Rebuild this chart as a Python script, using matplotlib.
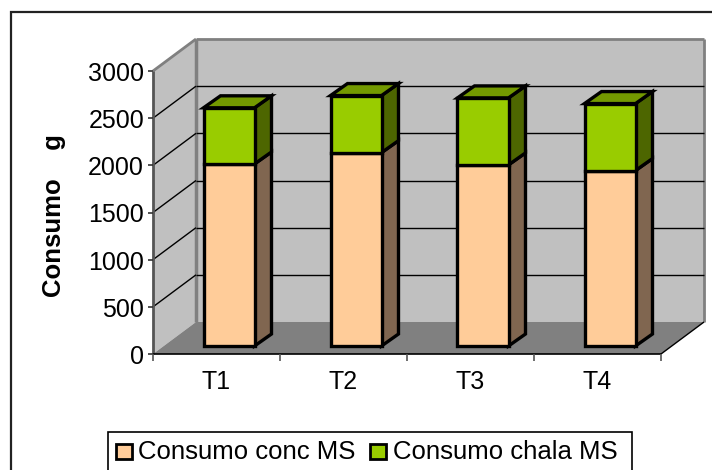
import numpy as np
import matplotlib
matplotlib.use('Agg')
import matplotlib.pyplot as plt
from matplotlib.patches import Polygon, Rectangle

plt.rcParams['font.family'] = ['Liberation Sans', 'DejaVu Sans']

categories = ['T1', 'T2', 'T3', 'T4']
conc = [1930, 2050, 1920, 1860]
chala = [595, 605, 710, 710]
yticks = [0, 500, 1000, 1500, 2000, 2500, 3000]

W, H = 712, 470
fig = plt.figure(figsize=(W/100, H/100), dpi=100)

# front plane of the 3d box, data units: categories across, grams up
x0, x1, ytop, ybot = 153, 661, 71, 354
ax = fig.add_axes([x0/W, 1-ybot/H, (x1-x0)/W, (ybot-ytop)/H])
ax.set_xlim(0, 4)
ax.set_ylim(0, 3000)
ax.axis('off')

px = 4/(x1-x0)
py = 3000/(ybot-ytop)
depth_x = 43*px
depth_y = 32*py


def poly(pts, fc, ec='none', lw=0, z=1):
    p = Polygon(pts, closed=True, facecolor=fc, edgecolor=ec, linewidth=lw, zorder=z,
                clip_on=False, joinstyle='miter')
    ax.add_patch(p)


def line(xs, ys, color='black', lw=1, z=2):
    ax.plot(xs, ys, color=color, lw=lw, zorder=z, clip_on=False, solid_capstyle='butt')


# walls and floor
gray = '#c0c0c0'
edge = '#808080'
poly([(0, 0), (depth_x, depth_y), (depth_x, 3000+depth_y), (0, 3000)], gray)
poly([(depth_x, depth_y), (4+depth_x, depth_y), (4+depth_x, 3000+depth_y), (depth_x, 3000+depth_y)], gray)
poly([(0, 0), (4, 0), (4+depth_x, depth_y), (depth_x, depth_y)], edge)

line([0, depth_x], [3000, 3000+depth_y], edge, 2, 1.5)
line([depth_x, depth_x], [depth_y, 3000+depth_y], edge, 2.5, 1.5)
line([depth_x, 4+depth_x], [3000+depth_y, 3000+depth_y], edge, 2, 1.5)
line([4+depth_x, 4+depth_x], [depth_y, 3000+depth_y], edge, 2, 1.5)
line([0, 0], [0, 3000], '#555555', 2, 3)

# gridlines
for v in yticks[1:-1]:
    line([0, depth_x], [v, v+depth_y], 'black', 1, 1.6)
    line([depth_x, 4+depth_x], [v+depth_y, v+depth_y], 'black', 1, 1.6)

# axes lines, ticks
line([0, 4], [0, 0], 'black', 1.2, 3)
line([4, 4+depth_x], [0, depth_y], 'black', 1, 3)
for v in yticks:
    line([-5*px, 0], [v, v], '#333333', 1.2, 3)
    ax.text(-9*px, v-3*py, str(v), ha='right', va='center', fontsize=18, color='black')
for i in range(5):
    line([i, i], [0, -7*py], '#555555', 1.2, 3)
for i, c in enumerate(categories):
    ax.text(i+0.5, -28*py, c, ha='center', va='center', fontsize=18, color='black')

ax.text(-99*px, 1463, 'Consumo    g', rotation=90, ha='center', va='center',
        fontsize=18.5, fontweight='bold')

# stacked 3d bars
bar_w = 51*px
off_x = 12.5*px
off_y = 8*py
bx = 17*px
by = 12*py
face = [('#ffcc99', '#806650', None), ('#99cc00', '#4d6600', '#739900')]
for i in range(4):
    l = i+0.5+off_x-bar_w/2
    r = l+bar_w
    bottom = off_y
    for vals, (fc, side, top) in zip([conc, chala], face):
        t = bottom+vals[i]
        poly([(r, bottom), (r+bx, bottom+by), (r+bx, t+by), (r, t)], side, 'black', 2.4, 5+i)
        poly([(l, bottom), (r, bottom), (r, t), (l, t)], fc, 'black', 2.4, 5.2+i)
        if top:
            poly([(l, t), (r, t), (r+bx, t+by), (l+bx, t+by)], top, 'black', 2.4, 5.1+i)
        bottom = t

# outer frame, figure pixels
over = fig.add_axes([0, 0, 1, 1], facecolor='none')
over.set_xlim(0, W)
over.set_ylim(H, 0)
over.axis('off')
over.plot([11, 11, W], [H, 12, 12], color='#222222', lw=1.6, solid_joinstyle='miter')

# legend box
over.add_patch(Rectangle((107.5, 431.5), 524, 45, fc='white', ec='black', lw=1.2))
for sx, tx, fc, lab in [(115.5, 138, '#ffcc99', 'Consumo conc MS'), (370, 393, '#99cc00', 'Consumo chala MS')]:
    over.add_patch(Rectangle((sx, 443.5), 16, 15, fc=fc, ec='black', lw=2))
    over.text(tx, 452, lab, ha='left', va='center', fontsize=18.5)

fig.savefig('out.png', dpi=100, facecolor='white')
